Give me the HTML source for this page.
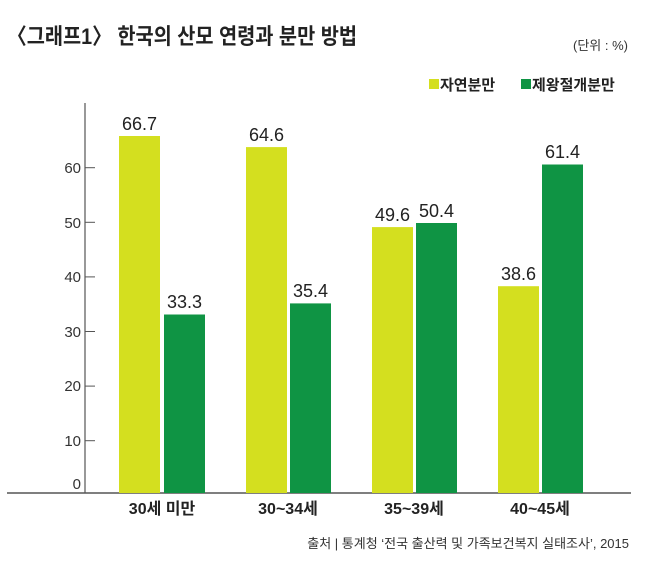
<!DOCTYPE html>
<html><head><meta charset="utf-8"><style>
body{margin:0;background:#fff;width:650px;height:570px;overflow:hidden}
text{font-family:"Liberation Sans","Noto Sans CJK KR",sans-serif}
</style></head><body>
<svg width="650" height="570" viewBox="0 0 650 570">
<text x="7" y="44" font-size="22" font-weight="bold" fill="#222" textLength="350" lengthAdjust="spacingAndGlyphs">〈그래프1〉 한국의 산모 연령과 분만 방법</text>
<text x="628" y="50" font-size="13" fill="#333" text-anchor="end">(단위 : %)</text>
<rect x="429" y="79" width="10" height="10" fill="#d4df1f"/>
<text x="440" y="90" font-size="15" font-weight="bold" fill="#222">자연분만</text>
<rect x="521" y="79" width="10" height="10" fill="#0f9444"/>
<text x="532" y="90" font-size="15" font-weight="bold" fill="#222">제왕절개분만</text>
<line x1="85" y1="103" x2="85" y2="493" stroke="#555" stroke-width="1.2"/>
<line x1="7" y1="493" x2="631" y2="493" stroke="#555" stroke-width="1.5"/>
<g font-size="15" fill="#333" text-anchor="end">
<line x1="85" y1="167.7" x2="95" y2="167.7" stroke="#555"/><text x="81" y="173">60</text>
<line x1="85" y1="222.3" x2="95" y2="222.3" stroke="#555"/><text x="81" y="228">50</text>
<line x1="85" y1="276.9" x2="95" y2="276.9" stroke="#555"/><text x="81" y="282">40</text>
<line x1="85" y1="331.5" x2="95" y2="331.5" stroke="#555"/><text x="81" y="337">30</text>
<line x1="85" y1="386.1" x2="95" y2="386.1" stroke="#555"/><text x="81" y="391">20</text>
<line x1="85" y1="440.7" x2="95" y2="440.7" stroke="#555"/><text x="81" y="446">10</text>
<text x="81" y="489">0</text>
</g>
<g>
<rect x="119" y="136" width="41" height="357" fill="#d4df1f"/>
<rect x="164" y="314.5" width="41" height="178.5" fill="#0f9444"/>
<rect x="246" y="147.1" width="41" height="345.9" fill="#d4df1f"/>
<rect x="290" y="303.4" width="41" height="189.6" fill="#0f9444"/>
<rect x="372" y="227.1" width="41" height="265.9" fill="#d4df1f"/>
<rect x="416" y="223" width="41" height="270" fill="#0f9444"/>
<rect x="498" y="286.2" width="41" height="206.8" fill="#d4df1f"/>
<rect x="542" y="164.5" width="41" height="328.5" fill="#0f9444"/>
</g>
<g font-size="18" fill="#222" text-anchor="middle">
<text x="139.5" y="130">66.7</text>
<text x="184.5" y="308">33.3</text>
<text x="266.5" y="141">64.6</text>
<text x="310.5" y="297">35.4</text>
<text x="392.5" y="221">49.6</text>
<text x="436.5" y="217">50.4</text>
<text x="518.5" y="280">38.6</text>
<text x="562.5" y="158">61.4</text>
</g>
<g font-size="16" font-weight="bold" fill="#222" text-anchor="middle">
<text x="162" y="514">30세 미만</text>
<text x="288" y="514">30~34세</text>
<text x="414" y="514">35~39세</text>
<text x="540" y="514">40~45세</text>
</g>
<text x="629" y="548" font-size="13" fill="#333" text-anchor="end">출처 | 통계청 ‘전국 출산력 및 가족보건복지 실태조사’, 2015</text>
</svg>
</body></html>
